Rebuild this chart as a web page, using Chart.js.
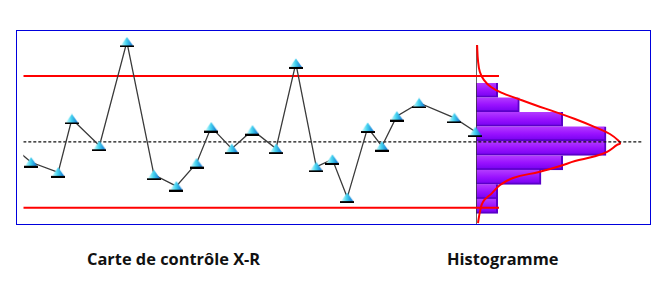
<!DOCTYPE html>
<html>
<head>
<meta charset="utf-8">
<script src="https://cdn.jsdelivr.net/npm/chart.js@4.4.0/dist/chart.umd.min.js"></script>
<style>
body { margin:0; background:#fff; width:671px; height:298px; overflow:hidden; position:relative; }
#cadre { position:absolute; left:16px; top:30px; width:635px; height:195px; box-sizing:border-box; border:1px solid #0000dd; z-index:3; }
#carte { position:absolute; left:16px; top:30px; z-index:2; }
#histo { position:absolute; left:476px; top:30px; z-index:1; }
.titre { position:absolute; top:249px; font:bold 16.4px "Open Sans", sans-serif; line-height:20px; color:#111; white-space:nowrap; }
</style>
</head>
<body>
<div id="cadre"></div>
<canvas id="histo" width="174" height="194"></canvas>
<canvas id="carte" width="634" height="194"></canvas>
<div class="titre" style="left:87px">Carte de contrôle X-R</div>
<div class="titre" style="left:447px">Histogramme</div>
<script>
'use strict';

////////////////////////////////////////////////////
// Donnees (unites = ecarts-types)
var echantillons = [-2, 1.26, 5.63, 7.84, 12.3, 16.72, 21.09, 24.71, 27.97, 30.34, 33.65,
    37.0, 40.8, 44.0, 47.3, 49.9, 52.3, 55.6, 57.9, 60.3, 63.9, 69.6, 73.0];
var mesures = [-0.16, -0.93, -1.39, 1.04, -0.18, 4.55, -1.50, -2.02, -0.97, 0.67, -0.31,
    0.53, -0.31, 3.57, -1.14, -0.80, -2.54, 0.65, -0.20, 1.17, 1.77, 1.09, 0.46];
var limiteSup = 3;
var limiteInf = -3;
var ligneCentrale = 0;

// histogramme
var classes = [2.225, 1.615, 1.005, 0.395, -0.215, -0.825, -1.435, -2.045, -2.655];
var effectifs = [1, 2, 4, 6, 6, 4, 3, 1, 1];
var pasClasse = 0.61;

// courbe de Gauss (niveau / densite)
var courbeNiveau = [4.13, 3.49, 2.99, 2.65, 2.36, 2.11, 1.89, 1.60, 1.31, 1.01, 0.67, 0.38, 0.08, -0.02,
    -0.08, -0.37, -0.58, -0.76, -0.97, -1.21, -1.47, -1.77, -2.11, -2.48, -2.91, -3.37];
var courbeDensite = [0.05, 0.09, 0.18, 0.37, 0.69, 1.20, 1.85, 2.72, 3.65, 4.57, 5.49, 6.18, 6.60, 6.65,
    6.51, 6.05, 5.40, 4.57, 3.88, 2.95, 1.71, 1.11, 0.74, 0.32, 0.18, 0.09];
////////////////////////////////////////////////////

var yMin = -3.41, yMax = 4.76;
var finLimites = 76.8;   // les lignes rouges s'arretent apres l'histogramme
var hautAxeHisto = 4.13;

// petit triangle "3D" pour les points
function triangle() {
    var c = document.createElement('canvas');
    c.width = 14; c.height = 11;
    var g = c.getContext('2d');
    var grad = g.createLinearGradient(1, 0, 13, 0);
    grad.addColorStop(0, '#d8ffff');
    grad.addColorStop(0.45, '#45d4f0');
    grad.addColorStop(1, '#0e6fd0');
    g.fillStyle = grad;
    g.beginPath();
    g.moveTo(7, 0.5);
    g.lineTo(13, 9);
    g.lineTo(1, 9);
    g.closePath();
    g.fill();
    g.fillStyle = '#000';
    g.fillRect(0, 9, 14, 2);
    return c;
}

var sansAxes = {
    responsive: false,
    animation: false,
    layout: { padding: 0 },
    plugins: { legend: { display: false }, tooltip: { enabled: false } }
};

// Carte de controle
new Chart(document.getElementById('carte'), {
    type: 'line',
    data: {
        datasets: [
            {
                label: 'X',
                data: echantillons.map(function (t, i) { return { x: t, y: mesures[i] }; }),
                borderColor: '#3a3a3a',
                borderWidth: 1.3,
                pointStyle: triangle(),
                pointRadius: 6,
                tension: 0
            },
            {
                label: 'LSC',
                data: [{ x: 0, y: limiteSup }, { x: finLimites, y: limiteSup }],
                borderColor: '#ff0000', borderWidth: 2, pointRadius: 0
            },
            {
                label: 'LIC',
                data: [{ x: 0, y: limiteInf }, { x: finLimites, y: limiteInf }],
                borderColor: '#ff0000', borderWidth: 2, pointRadius: 0
            },
            {
                label: 'LC',
                data: [{ x: 0, y: ligneCentrale }, { x: 100, y: ligneCentrale }],
                borderColor: '#111', borderWidth: 1.2, borderDash: [3, 2], pointRadius: 0
            }
        ]
    },
    options: Object.assign({}, sansAxes, {
        scales: {
            x: { type: 'linear', min: 0, max: 100, display: false },
            y: { type: 'linear', min: yMin, max: yMax, display: false }
        }
    })
});

// Histogramme
function couleurBarre(ctx) {
    var chart = ctx.chart;
    var ys = chart.scales && chart.scales.y;
    if (!chart.chartArea || !ys || ctx.dataIndex === undefined) {
        return '#9410ff';
    }
    var c = classes[ctx.dataIndex];
    var haut = ys.getPixelForValue(c + pasClasse / 2);
    var bas = ys.getPixelForValue(c - pasClasse / 2);
    var grad = chart.ctx.createLinearGradient(0, haut, 0, bas);
    grad.addColorStop(0, '#b43cff');
    grad.addColorStop(0.5, '#9a12ff');
    grad.addColorStop(1, '#7400f0');
    return grad;
}

new Chart(document.getElementById('histo'), {
    type: 'bar',
    data: {
        datasets: [
            {
                type: 'line',
                data: courbeNiveau.map(function (v, i) { return { x: courbeDensite[i], y: v }; }),
                borderColor: '#ff0000', borderWidth: 2, pointRadius: 0, tension: 0.4
            },
            {
                type: 'line',
                data: [{ x: 0, y: hautAxeHisto }, { x: 0, y: yMin }],
                borderColor: '#333', borderWidth: 1.5, pointRadius: 0
            },
            {
                type: 'bar',
                data: classes.map(function (c, i) { return { x: effectifs[i], y: c }; }),
                backgroundColor: couleurBarre,
                borderColor: '#5a00c8',
                borderWidth: { top: 0, right: 2, bottom: 2, left: 0 },
                barPercentage: 1,
                categoryPercentage: 1
            }
        ]
    },
    options: Object.assign({}, sansAxes, {
        indexAxis: 'y',
        scales: {
            x: { type: 'linear', min: 0, max: 8.03, display: false },
            // pas de decalage ni de graduation fine (meme echelle que la carte)
            y: { type: 'linear', min: yMin, max: yMax, display: false, offset: false, ticks: { stepSize: 10 } }
        }
    })
});
</script>
</body>
</html>
